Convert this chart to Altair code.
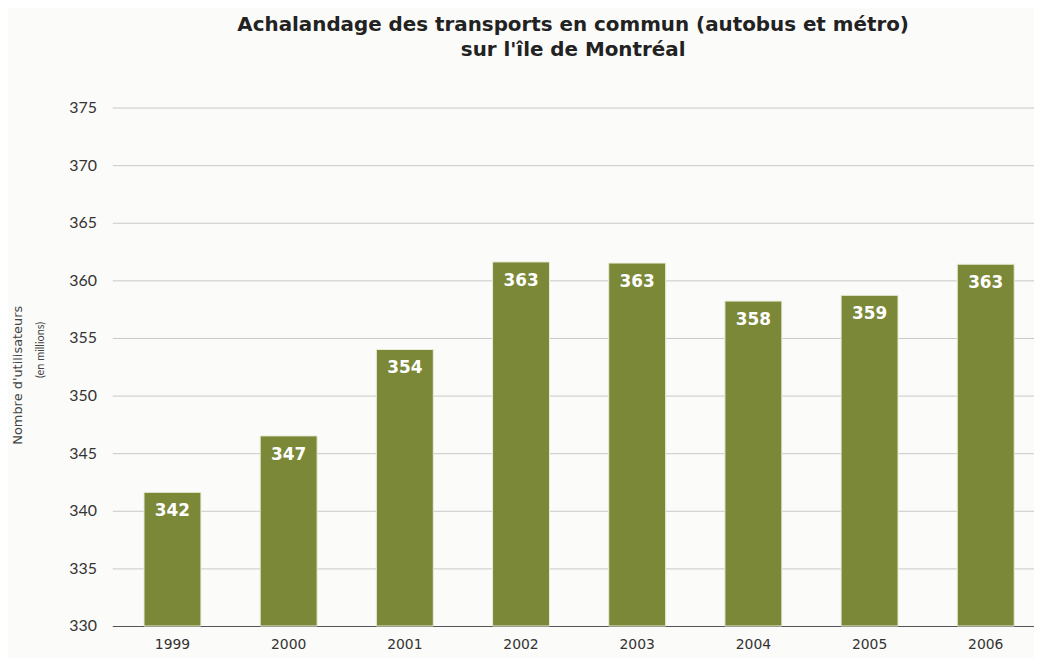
import altair as alt
import pandas as pd

years = ["1999", "2000", "2001", "2002", "2003", "2004", "2005", "2006"]
heights = [341.6, 346.5, 354.0, 361.6, 361.5, 358.2, 358.7, 361.4]
labels = ["342", "347", "354", "363", "363", "358", "359", "363"]

df = pd.DataFrame({"annee": years, "valeur": heights, "etiquette": labels})

FONT = "Lato"
WIDE = "DejaVu Sans"
BAR = "#7b8838"

x = alt.X("annee:N", sort=years,
          scale=alt.Scale(paddingInner=0.51, paddingOuter=0.273, range=[0, 940]),
          axis=alt.Axis(title=None, labelAngle=0, labelFontSize=14, labelFont=WIDE,
                        labelColor="#333333", labelPadding=12, ticks=False,
                        domain=True, domainColor="#555555", domainWidth=1.2))
y = alt.Y("valeur:Q",
          scale=alt.Scale(domain=[330, 375], nice=False, zero=False),
          axis=alt.Axis(values=list(range(330, 376, 5)), title="Nombre d'utilisateurs",
                        titleFont=WIDE, titleFontSize=13, titleFontWeight="normal",
                        titleColor="#444444", titleX=-95, titleY=269, titleAngle=270,
                        titleAlign="center", titleBaseline="middle",
                        labelFont=FONT, labelFontSize=16, labelColor="#333333",
                        labelPadding=16, ticks=False, domain=False,
                        gridColor="#c9c9c9", gridWidth=1))

bars = alt.Chart(df).mark_bar(color=BAR, stroke="#e9ecd8", strokeWidth=1).encode(
    x=x, y=y, y2=alt.datum(330))

text = alt.Chart(df).mark_text(color="white", font=WIDE, fontWeight="bold", fontSize=17,
                               baseline="top", dy=11).encode(
    x=alt.X("annee:N", sort=years), y="valeur:Q", text="etiquette:N")

sub = alt.Chart(pd.DataFrame({"t": ["(en millions)"]})).mark_text(
    angle=270, font=FONT, fontSize=11, color="#444444").encode(
    x=alt.value(-72), y=alt.value(244), text="t:N")

chart = alt.layer(bars, text, sub).properties(
    width=928, height=522,
    autosize=alt.AutoSizeParams(type="none"),
    padding={"left": 105, "top": 98, "right": 0, "bottom": 30},
    title=alt.TitleParams(
        ["Achalandage des transports en commun (autobus et métro)", "sur l'île de Montréal"],
        font=WIDE, fontSize=20, fontWeight="bold", color="#222222",
        anchor="middle", offset=40, lineHeight=25),
    background="#fbfbf9",
).configure_view(stroke=None)

chart.save("out.html", embed_options={"renderer": "svg", "actions": False})
